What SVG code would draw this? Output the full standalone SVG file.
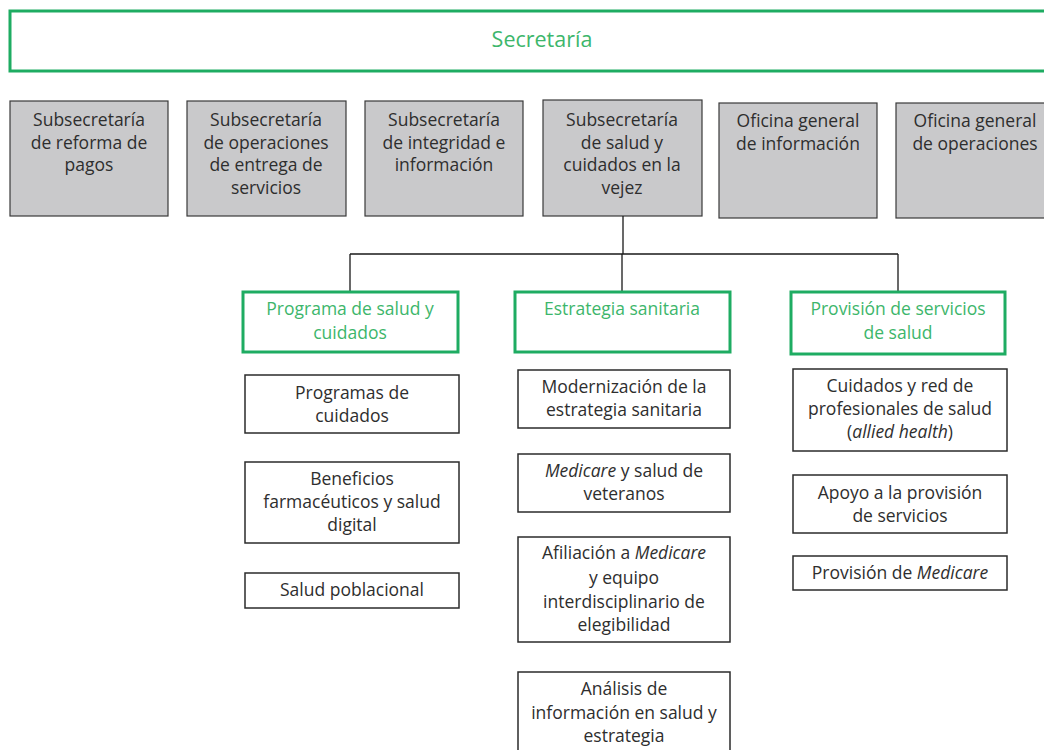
<svg xmlns="http://www.w3.org/2000/svg" width="1044" height="750" viewBox="0 0 1044 750">
  <style>
    text { font-family: "Open Sans", Lato, "Liberation Sans", sans-serif; font-size: 17.5px; text-anchor: middle; }
    .g { fill: #3db66b; }
    .k { fill: #2e2e2e; }
    .gray { fill: #c9c9cb; stroke: #3a3a3a; stroke-width: 1.2; }
    .green { fill: #ffffff; stroke: #1eac62; stroke-width: 3; }
    .white { fill: #ffffff; stroke: #2b2b2b; stroke-width: 1.5; }
    .conn { fill: none; stroke: #1a1a1a; stroke-width: 1.3; }
    .i { font-style: italic; }
  </style>
  <rect width="1044" height="750" fill="#ffffff"/>

  <g id="secretaria">
    <rect class="green" x="10" y="11" width="1040" height="60"/>
    <text class="g" x="542" y="47" style="font-size:21.5px">Secretaría</text>
  </g>

  <g id="sub-reforma-pagos">
    <rect class="gray" x="10" y="101" width="158" height="115"/>
    <text class="k" x="89" y="126">Subsecretaría</text>
    <text class="k" x="89" y="148.5">de reforma de</text>
    <text class="k" x="89" y="171">pagos</text>
  </g>
  <g id="sub-operaciones-entrega">
    <rect class="gray" x="187" y="101" width="159" height="115"/>
    <text class="k" x="266" y="126">Subsecretaría</text>
    <text class="k" x="266" y="148.5">de operaciones</text>
    <text class="k" x="266" y="171">de entrega de</text>
    <text class="k" x="266" y="193.5">servicios</text>
  </g>
  <g id="sub-integridad">
    <rect class="gray" x="365" y="101" width="158" height="115"/>
    <text class="k" x="444" y="126">Subsecretaría</text>
    <text class="k" x="444" y="148.5">de integridad e</text>
    <text class="k" x="444" y="171">información</text>
  </g>
  <g id="sub-salud-vejez">
    <rect class="gray" x="543" y="100" width="159" height="116"/>
    <text class="k" x="622" y="126">Subsecretaría</text>
    <text class="k" x="622" y="148.5">de salud y</text>
    <text class="k" x="622" y="171">cuidados en la</text>
    <text class="k" x="622" y="193.5">vejez</text>
  </g>
  <g id="oficina-informacion">
    <rect class="gray" x="719" y="103" width="158" height="115"/>
    <text class="k" x="798" y="127">Oficina general</text>
    <text class="k" x="798" y="150">de información</text>
  </g>
  <g id="oficina-operaciones">
    <rect class="gray" x="896" y="103" width="160" height="115"/>
    <text class="k" x="975" y="127">Oficina general</text>
    <text class="k" x="975" y="150">de operaciones</text>
  </g>

  <g id="connectors">
    <path class="conn" d="M623 216 V254 M350 254 H898 M350 254 V292 M622 254 V292 M898 254 V292"/>
  </g>

  <g id="programa-salud-cuidados">
    <rect class="green" x="243" y="292" width="215" height="60"/>
    <text class="g" x="350" y="315">Programa de salud y</text>
    <text class="g" x="350" y="339">cuidados</text>
  </g>
  <g id="estrategia-sanitaria">
    <rect class="green" x="515" y="292" width="215" height="60"/>
    <text class="g" x="622" y="315">Estrategia sanitaria</text>
  </g>
  <g id="provision-servicios">
    <rect class="green" x="791" y="292" width="214" height="62"/>
    <text class="g" x="898" y="315">Provisión de servicios</text>
    <text class="g" x="898" y="339">de salud</text>
  </g>

  <g id="programas-cuidados">
    <rect class="white" x="245" y="375" width="214" height="58"/>
    <text class="k" x="352" y="399">Programas de</text>
    <text class="k" x="352" y="422">cuidados</text>
  </g>
  <g id="beneficios-farmaceuticos">
    <rect class="white" x="245" y="462" width="214" height="81"/>
    <text class="k" x="352" y="485">Beneficios</text>
    <text class="k" x="352" y="508">farmacéuticos y salud</text>
    <text class="k" x="352" y="531">digital</text>
  </g>
  <g id="salud-poblacional">
    <rect class="white" x="245" y="573" width="214" height="35"/>
    <text class="k" x="352" y="596">Salud poblacional</text>
  </g>

  <g id="modernizacion">
    <rect class="white" x="518" y="370" width="212" height="58"/>
    <text class="k" x="624" y="393">Modernización de la</text>
    <text class="k" x="624" y="416">estrategia sanitaria</text>
  </g>
  <g id="medicare-veteranos">
    <rect class="white" x="518" y="454" width="212" height="58"/>
    <text class="k" x="624" y="477"><tspan class="i">Medicare</tspan> y salud de</text>
    <text class="k" x="624" y="500">veteranos</text>
  </g>
  <g id="afiliacion-medicare">
    <rect class="white" x="518" y="537" width="212" height="105"/>
    <text class="k" x="624" y="559">Afiliación a <tspan class="i">Medicare</tspan></text>
    <text class="k" x="624" y="584">y equipo</text>
    <text class="k" x="624" y="608">interdisciplinario de</text>
    <text class="k" x="624" y="631">elegibilidad</text>
  </g>
  <g id="analisis-informacion">
    <rect class="white" x="518" y="672" width="212" height="90"/>
    <text class="k" x="624" y="695">Análisis de</text>
    <text class="k" x="624" y="719">información en salud y</text>
    <text class="k" x="624" y="742">estrategia</text>
  </g>

  <g id="cuidados-red">
    <rect class="white" x="793" y="369" width="214" height="82"/>
    <text class="k" x="900" y="392">Cuidados y red de</text>
    <text class="k" x="900" y="415">profesionales de salud</text>
    <text class="k" x="900" y="438">(<tspan class="i">allied health</tspan>)</text>
  </g>
  <g id="apoyo-provision">
    <rect class="white" x="793" y="475" width="214" height="58"/>
    <text class="k" x="900" y="499">Apoyo a la provisión</text>
    <text class="k" x="900" y="522">de servicios</text>
  </g>
  <g id="provision-medicare">
    <rect class="white" x="793" y="556" width="214" height="34"/>
    <text class="k" x="900" y="579">Provisión de <tspan class="i">Medicare</tspan></text>
  </g>
</svg>
